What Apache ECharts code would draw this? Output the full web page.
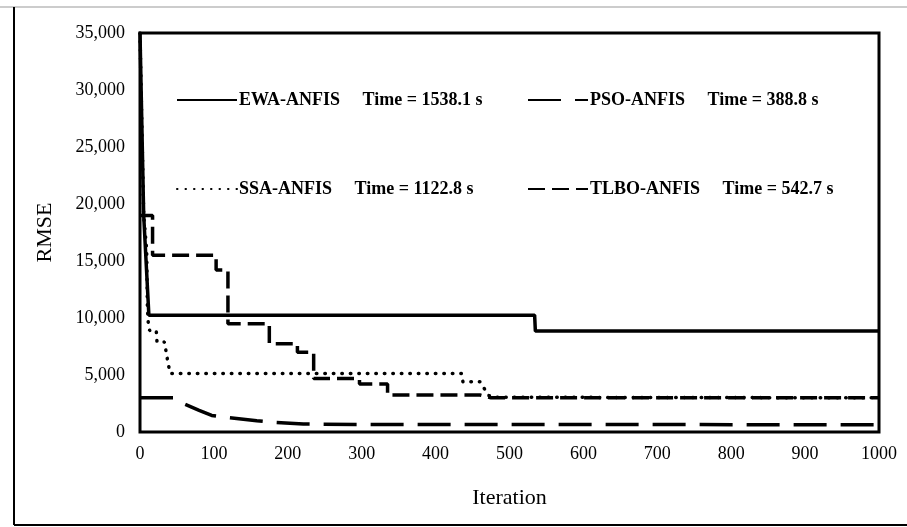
<!DOCTYPE html>
<html><head><meta charset="utf-8">
<script src="https://cdn.jsdelivr.net/npm/echarts@6/dist/echarts.min.js"></script>
<style>html,body{margin:0;padding:0;background:#fff}#c{width:907px;height:527px}</style>
</head><body><div id="c"></div>
<script>
// ---- data ----
const seriesNames = ['EWA-ANFIS', 'PSO-ANFIS', 'SSA-ANFIS', 'TLBO-ANFIS'];
const runTimes = ['1538.1', '388.8', '1122.8', '542.7'];
const ewaData = [[0,35000],[5,19000],[12,10250],[534,10250],[535,8850],[1000,8850]];
const psoData = [[0,3000],[45,3000],[60,2450],[80,1900],[97,1450],[116,1280],[158,990],[179,850],[221,700],[300,660],[1000,640]];
const ssaData = [[0,35000],[5,19000],[9,16000],[10,11000],[11,9700],[13,8900],[22,8900],[23,7900],[33,7900],[36,6800],[38,6000],[41,5130],[435,5130],[437,4400],[460,4400],[466,3800],[472,3200],[480,3050],[1000,3000]];
const tlboData = [[0,19000],[17,19000],[17,15500],[103,15500],[103,14200],[119,14200],[119,9500],[175,9500],[175,7750],[213,7750],[213,7000],[235,7000],[235,4700],[297,4700],[297,4200],[335,4200],[335,3250],[460,3250],[475,3000],[1000,3000]];
const xMin = 0, xMax = 1000, xStep = 100;
const yMin = 0, yMax = 35000, yStep = 5000;

const serif = 'Liberation Serif';
const chart = echarts.init(document.getElementById('c'), null, {renderer: 'canvas'});
const styles = [
  {type: 'solid', width: 3.5, cap: 'butt'},
  {type: [33, 14], width: 3.5, cap: 'butt'},
  {type: [0.5, 8], width: 3.5, cap: 'round'},
  {type: [17, 7], width: 3.5, cap: 'butt'}
];
const datasets = [ewaData, psoData, ssaData, tlboData];
const legendPos = [[176, 91], [527, 91], [176, 180], [527, 180]];

const option = {
  backgroundColor: '#fff',
  animation: false,
  grid: {left: 140, right: 28, top: 33, bottom: 95, show: true, borderColor: '#000', borderWidth: 3, backgroundColor: 'transparent'},
  xAxis: {
    type: 'value', min: xMin, max: xMax, interval: xStep,
    name: 'Iteration', nameLocation: 'middle', nameGap: 55,
    nameTextStyle: {fontFamily: serif, fontSize: 22, color: '#000'},
    axisLine: {show: false}, axisTick: {show: false}, splitLine: {show: false},
    axisLabel: {fontFamily: serif, fontSize: 18, color: '#000', margin: 13, formatter: v => String(v)}
  },
  yAxis: {
    type: 'value', min: yMin, max: yMax, interval: yStep,
    name: 'RMSE', nameLocation: 'middle', nameGap: 84,
    nameTextStyle: {fontFamily: serif, fontSize: 22, color: '#000'},
    axisLine: {show: false}, axisTick: {show: false}, splitLine: {show: false},
    axisLabel: {fontFamily: serif, fontSize: 18, color: '#000', margin: 15,
      formatter: v => v.toLocaleString('en-US')}
  },
  legend: seriesNames.map((n, i) => ({
    data: [n], left: legendPos[i][0], top: legendPos[i][1], padding: 0,
    itemWidth: 60, itemHeight: 14, itemGap: 0,
    itemStyle: {opacity: 0},
    textStyle: {fontFamily: serif, fontSize: 18, fontWeight: 'bold', color: '#000', padding: [0,0,0,-3]},
    formatter: name => name + '     Time = ' + runTimes[i] + ' s'
  })),
  series: seriesNames.map((n, i) => ({
    name: n, type: 'line', data: datasets[i], showSymbol: false, symbol: 'none',
    lineStyle: Object.assign({color: '#000'}, styles[i]), itemStyle: {color: '#000'},
    z: 2 + (3 - i)
  })),
  graphic: [
    {type: 'line', shape: {x1: 0, y1: 7, x2: 907, y2: 7}, style: {stroke: '#bbb', lineWidth: 1.5}},
    {type: 'line', shape: {x1: 14, y1: 7, x2: 14, y2: 525}, style: {stroke: '#000', lineWidth: 2}},
    {type: 'line', shape: {x1: 14, y1: 525, x2: 907, y2: 525}, style: {stroke: '#000', lineWidth: 2}}
  ]
};
chart.setOption(option);
</script></body></html>
